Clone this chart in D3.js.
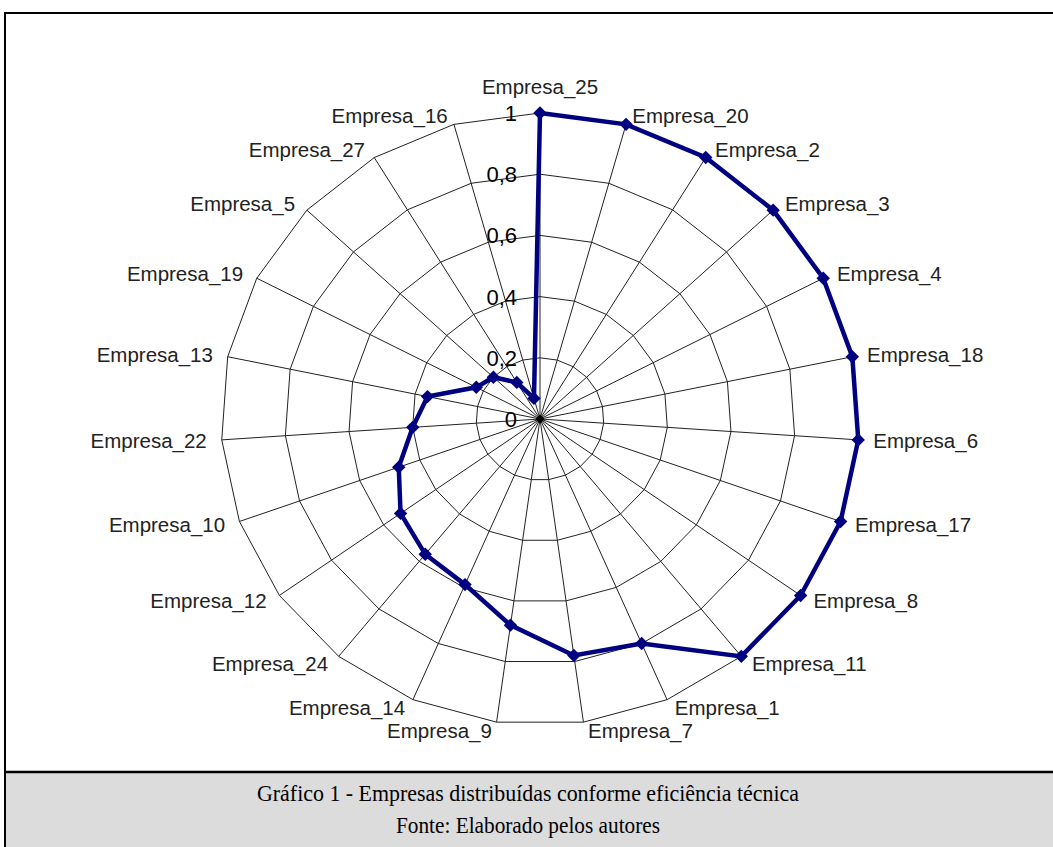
<!DOCTYPE html>
<html>
<head>
<meta charset="utf-8">
<script src="https://cdn.jsdelivr.net/npm/d3@7"></script>
<style>
  html, body { margin: 0; padding: 0; background: #fff; }
  svg { display: block; }
</style>
</head>
<body>
<svg id="chart" width="1053" height="847"></svg>
<script>
// ---- data (clockwise from the top) ----
const categories = ["Empresa_25","Empresa_20","Empresa_2","Empresa_3","Empresa_4","Empresa_18","Empresa_6",
  "Empresa_17","Empresa_8","Empresa_11","Empresa_1","Empresa_7","Empresa_9","Empresa_14","Empresa_24",
  "Empresa_12","Empresa_10","Empresa_22","Empresa_13","Empresa_19","Empresa_5","Empresa_27","Empresa_16"];
const efficiency = [1.00, 1.00, 1.00, 1.00, 1.00, 1.00, 1.00, 1.00, 1.00, 1.00, 0.80, 0.78, 0.68, 0.59, 0.57,
  0.535, 0.47, 0.40, 0.36, 0.225, 0.20, 0.14, 0.07];
const tickValues = [0, 0.2, 0.4, 0.6, 0.8, 1];
const tickLabels = ["0", "0,2", "0,4", "0,6", "0,8", "1"];
const captionLines = ["Gráfico 1 - Empresas distribuídas conforme eficiência técnica",
  "Fonte: Elaborado pelos autores"];

const svg = d3.select("#chart");
const W = 1053, H = 847;

// frame
svg.append("rect").attr("x", 0).attr("y", 0).attr("width", W).attr("height", H).attr("fill", "#fff");
svg.append("rect").attr("x", 5).attr("y", 772).attr("width", W - 5).attr("height", H - 772).attr("fill", "#dcdcdc");
svg.append("line").attr("x1", 5).attr("x2", W).attr("y1", 13).attr("y2", 13).attr("stroke", "#000").attr("stroke-width", 2);
svg.append("line").attr("x1", 5).attr("x2", 5).attr("y1", 12).attr("y2", H).attr("stroke", "#000").attr("stroke-width", 2);
svg.append("line").attr("x1", 5).attr("x2", W).attr("y1", 772).attr("y2", 772).attr("stroke", "#000").attr("stroke-width", 2.5);

const capWidths = [542, 264];
captionLines.forEach((t, i) => {
  svg.append("text").attr("x", 528).attr("y", 801 + i * 32)
    .attr("text-anchor", "middle")
    .attr("font-family", "'Liberation Serif', 'Times New Roman', serif")
    .attr("font-size", 23.5).attr("fill", "#000")
    .attr("textLength", capWidths[i]).attr("lengthAdjust", "spacingAndGlyphs")
    .text(t);
});

// radar geometry
const cx = 540, cy = 419;
const rx = d3.scaleLinear().domain([0, 1]).range([0, 319]);
const ry = d3.scaleLinear().domain([0, 1]).range([0, 306]);
const angle = d3.scaleBand().domain(categories).range([0, 2 * Math.PI]).align(0).paddingInner(0).paddingOuter(0);
const ang = c => angle(c);
const px = (c, v) => cx + rx(v) * Math.sin(ang(c));
const py = (c, v) => cy - ry(v) * Math.cos(ang(c));

const g = svg.append("g");

// rings
tickValues.filter(v => v > 0).forEach(v => {
  const pts = categories.map(c => [px(c, v), py(c, v)]);
  g.append("path").attr("d", d3.line().curve(d3.curveLinearClosed)(pts))
    .attr("fill", "none").attr("stroke", "#222").attr("stroke-width", 1);
});
// spokes
categories.forEach(c => {
  g.append("line").attr("x1", cx).attr("y1", cy).attr("x2", px(c, 1)).attr("y2", py(c, 1))
    .attr("stroke", "#222").attr("stroke-width", 1);
});
// dense hub where spokes meet
g.append("path").attr("transform", `translate(${cx},${cy}) rotate(45)`)
  .attr("d", d3.symbol().type(d3.symbolSquare).size(40)()).attr("fill", "#000");

// tick labels along the first spoke
tickValues.forEach((v, i) => {
  g.append("text").attr("x", cx - 23).attr("y", cy - ry(v) + 8)
    .attr("text-anchor", "end")
    .attr("font-family", "'Liberation Sans', Arial, sans-serif")
    .attr("font-size", 22).attr("fill", "#000").text(tickLabels[i]);
});

// series line
const seriesPts = categories.map((c, i) => [px(c, efficiency[i]), py(c, efficiency[i])]);
g.append("path").attr("d", d3.line().curve(d3.curveLinearClosed)(seriesPts))
  .attr("fill", "none").attr("stroke", "#000080").attr("stroke-width", 4.5).attr("stroke-linejoin", "miter");

// markers (diamonds)
g.selectAll("path.mk").data(seriesPts).join("path").attr("class", "mk")
  .attr("transform", d => `translate(${d[0]},${d[1]}) rotate(45)`)
  .attr("d", d3.symbol().type(d3.symbolSquare).size(90)())
  .attr("fill", "#000080");

// category labels
const fs = 20.5;
categories.forEach(c => {
  const a = ang(c), s = Math.sin(a), co = Math.cos(a);
  const x0 = px(c, 1), y0 = py(c, 1);
  let anchor = "middle", x = x0, yc;
  if (Math.abs(s) < 0.05) {
    yc = y0 - co * 26;
  } else {
    anchor = s > 0 ? "start" : "end";
    x = x0 + s * 12 + Math.sign(s) * 3;
    yc = y0 - co * 9;
  }
  g.append("text").attr("x", x).attr("y", yc + fs * 0.35)
    .attr("text-anchor", anchor)
    .attr("font-family", "'Liberation Sans', Arial, sans-serif")
    .attr("font-size", fs).attr("fill", "#222").text(c);
});
</script>
</body>
</html>
